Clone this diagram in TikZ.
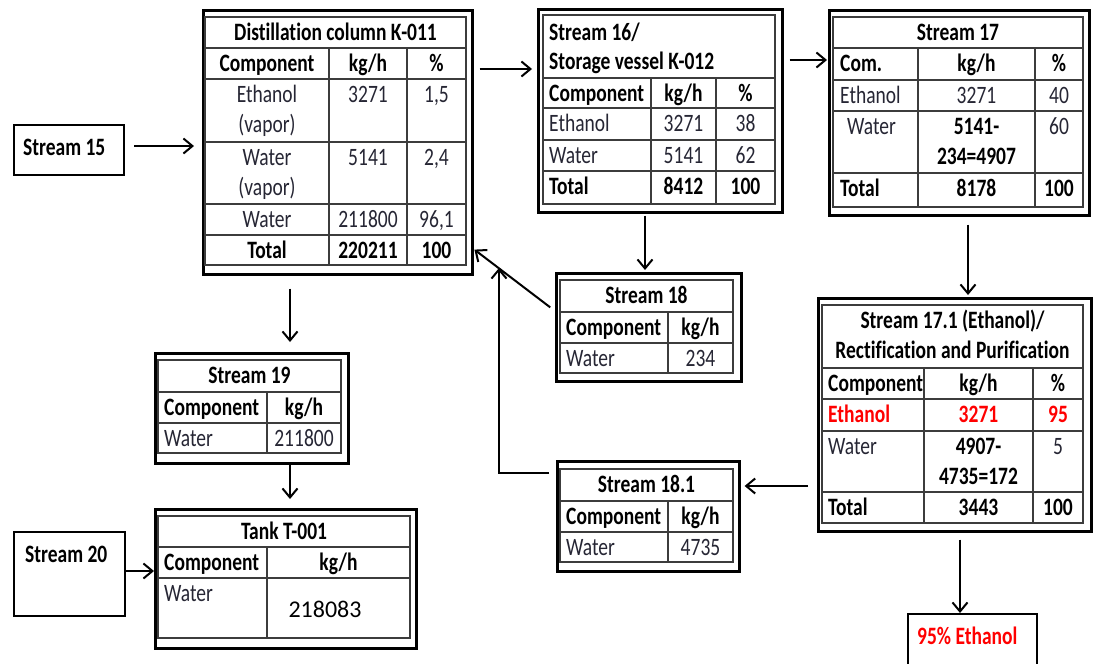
\documentclass[tikz,border=0pt]{standalone}
\usepackage{fontspec}
\setmainfont{Carlito}[FakeStretch=0.78,Ligatures={NoCommon}]
\newfontfamily\numfont{Carlito}
\usetikzlibrary{arrows.meta}
\definecolor{txt}{RGB}{38,38,52}
\definecolor{gridc}{RGB}{60,60,60}
\definecolor{myred}{RGB}{255,0,0}
\begin{document}
\begin{tikzpicture}[x=1pt,y=-1pt,
  font=\fontsize{25}{30}\selectfont,
  obox/.style={draw=black,line width=2.6pt,inner sep=0pt,anchor=north west},
  sbox/.style={draw=black,line width=2pt,inner sep=0pt,anchor=north west},
  gridline/.style={draw=gridc,line width=1.1pt},
  rt/.style={anchor=base,inner sep=0pt,text=txt},
  rl/.style={rt,anchor=base west},
  bt/.style={anchor=base,inner sep=0pt,text=black,font=\fontsize{25}{30}\selectfont\bfseries},
  bl/.style={bt,anchor=base west},
  rb/.style={bt,text=myred},
  rbl/.style={rb,anchor=base west},
  arr/.style={line width=2pt,-{Straight Barb[length=9pt,width=15pt]}}
]
\fill[white] (0,0) rectangle (1093,664);
\clip (0,0) rectangle (1093,664);

% ---------- Distillation column ----------
\node[obox,minimum width=269pt,minimum height=264pt] (dist) at (202,9) {};
\draw[gridline] (205,17) rectangle (466,265);
\foreach \r in {48,79,142,204,235} \draw[gridline] (205,\r) -- (466,\r);
\foreach \c in {329,407} \draw[gridline] (\c,48) -- (\c,265);
\node[bt] (d-title) at (335.5,40) {Distillation column K-011};
\node[bt] (d-h1) at (267,71) {Component};
\node[bt] (d-h2) at (368,71) {kg/h};
\node[bt] (d-h3) at (436.5,71) {\%};
\node[rt] (d-e1) at (267,102) {Ethanol};
\node[rt] (d-e1b) at (267,132) {(vapor)};
\node[rt] (d-e2) at (368,102) {3271};
\node[rt] (d-e3) at (436.5,102) {1,5};
\node[rt] (d-w1) at (267,165) {Water};
\node[rt] (d-w1b) at (267,195) {(vapor)};
\node[rt] (d-w2) at (368,165) {5141};
\node[rt] (d-w3) at (436.5,165) {2,4};
\node[rt] (d-x1) at (267,227) {Water};
\node[rt] (d-x2) at (368,227) {211800};
\node[rt] (d-x3) at (436.5,227) {96,1};
\node[bt] (d-t1) at (267,258) {Total};
\node[bt] (d-t2) at (368,258) {220211};
\node[bt] (d-t3) at (436.5,258) {100};

% ---------- Stream 16 ----------
\node[obox,minimum width=244pt,minimum height=203pt] (s16) at (537,8) {};
\draw[gridline] (543,15) rectangle (775,204);
\foreach \r in {78,108,140,171} \draw[gridline] (543,\r) -- (775,\r);
\foreach \c in {651,716} \draw[gridline] (\c,78) -- (\c,204);
\node[bl] (s16-ta) at (549,40) {Stream 16/};
\node[bl] (s16-tb) at (549,69) {Storage vessel K-012};
\node[bl] (s16-h1) at (549,101) {Component};
\node[bt] (s16-h2) at (683.5,101) {kg/h};
\node[bt] (s16-h3) at (745.5,101) {\%};
\node[rl] (s16-e1) at (549,131) {Ethanol};
\node[rt] (s16-e2) at (683.5,131) {3271};
\node[rt] (s16-e3) at (745.5,131) {38};
\node[rl] (s16-w1) at (549,163) {Water};
\node[rt] (s16-w2) at (683.5,163) {5141};
\node[rt] (s16-w3) at (745.5,163) {62};
\node[bl] (s16-t1) at (549,194) {Total};
\node[bt] (s16-t2) at (683.5,194) {8412};
\node[bt] (s16-t3) at (745.5,194) {100};

% ---------- Stream 17 ----------
\node[obox,minimum width=260pt,minimum height=205pt] (s17) at (828,9) {};
\draw[gridline] (833,17) rectangle (1083,207);
\foreach \r in {48,80,111,173} \draw[gridline] (833,\r) -- (1083,\r);
\foreach \c in {918,1035} \draw[gridline] (\c,48) -- (\c,207);
\node[bt] (s17-t) at (958,40) {Stream 17};
\node[bl] (s17-h1) at (840,71) {Com.};
\node[bt] (s17-h2) at (976.5,71) {kg/h};
\node[bt] (s17-h3) at (1059,71) {\%};
\node[rl] (s17-e1) at (840,103) {Ethanol};
\node[rt] (s17-e2) at (976.5,103) {3271};
\node[rt] (s17-e3) at (1059,103) {40};
\node[rl] (s17-w1) at (847,134) {Water};
\node[bt] (s17-w2) at (976.5,134) {5141-};
\node[bt] (s17-w2b) at (976.5,164) {234=4907};
\node[rt] (s17-w3) at (1059,134) {60};
\node[bl] (s17-t1) at (840,196) {Total};
\node[bt] (s17-t2) at (976.5,196) {8178};
\node[bt] (s17-t3) at (1059,196) {100};

% ---------- Stream 17.1 ----------
\node[obox,minimum width=273pt,minimum height=233pt] (s171) at (817,297) {};
\draw[gridline] (822,305) rectangle (1083,523);
\foreach \r in {368,399,431,492} \draw[gridline] (822,\r) -- (1083,\r);
\foreach \c in {924,1033} \draw[gridline] (\c,368) -- (\c,523);
\node[bt] (s171-ta) at (952.5,328) {Stream 17.1 (Ethanol)/};
\node[bt] (s171-tb) at (952.5,358) {Rectification and Purification};
\node[bl] (s171-h1) at (828,391) {Component};
\node[bt] (s171-h2) at (978.5,391) {kg/h};
\node[bt] (s171-h3) at (1058,391) {\%};
\node[rbl] (s171-e1) at (828,422) {Ethanol};
\node[rb] (s171-e2) at (978.5,422) {3271};
\node[rb] (s171-e3) at (1058,422) {95};
\node[rl] (s171-w1) at (828,454) {Water};
\node[bt] (s171-w2) at (978.5,454) {4907-};
\node[bt] (s171-w2b) at (978.5,484) {4735=172};
\node[rt] (s171-w3) at (1058,454) {5};
\node[bl] (s171-t1) at (828,515) {Total};
\node[bt] (s171-t2) at (978.5,515) {3443};
\node[bt] (s171-t3) at (1058,515) {100};

% ---------- Stream 18 ----------
\node[obox,minimum width=185pt,minimum height=108pt] (s18) at (555,272) {};
\draw[gridline] (560,280) rectangle (733,373);
\foreach \r in {312,343} \draw[gridline] (560,\r) -- (733,\r);
\draw[gridline] (668,312) -- (668,373);
\node[bt] (s18-t) at (646.5,303) {Stream 18};
\node[bl] (s18-h1) at (566,335) {Component};
\node[bt] (s18-h2) at (700.5,335) {kg/h};
\node[rl] (s18-w1) at (566,366) {Water};
\node[rt] (s18-w2) at (700.5,366) {234};

% ---------- Stream 18.1 ----------
\node[obox,minimum width=182pt,minimum height=110pt] (s181) at (556,460) {};
\draw[gridline] (560,469) rectangle (733,562);
\foreach \r in {501,532} \draw[gridline] (560,\r) -- (733,\r);
\draw[gridline] (668,501) -- (668,562);
\node[bt] (s181-t) at (646.5,492) {Stream 18.1};
\node[bl] (s181-h1) at (566,524) {Component};
\node[bt] (s181-h2) at (700.5,524) {kg/h};
\node[rl] (s181-w1) at (566,555) {Water};
\node[rt] (s181-w2) at (700.5,555) {4735};

% ---------- Stream 19 ----------
\node[obox,minimum width=193pt,minimum height=110pt] (s19) at (154,352) {};
\draw[gridline] (158,360) rectangle (341,453);
\foreach \r in {392,423} \draw[gridline] (158,\r) -- (341,\r);
\draw[gridline] (267,392) -- (267,453);
\node[bt] (s19-t) at (249.5,383) {Stream 19};
\node[bl] (s19-h1) at (164,415) {Component};
\node[bt] (s19-h2) at (304,415) {kg/h};
\node[rl] (s19-w1) at (164,446) {Water};
\node[rt] (s19-w2) at (304,446) {211800};

% ---------- Tank T-001 ----------
\node[obox,minimum width=261pt,minimum height=139pt] (tank) at (154,508) {};
\draw[gridline] (158,516) rectangle (410,638);
\foreach \r in {547,578} \draw[gridline] (158,\r) -- (410,\r);
\draw[gridline] (267,547) -- (267,638);
\node[bt] (tk-t) at (284,539) {Tank T-001};
\node[bl] (tk-h1) at (164,570) {Component};
\node[bt] (tk-h2) at (338.5,570) {kg/h};
\node[rl] (tk-w1) at (164,601) {Water};
\node[anchor=base,inner sep=0pt,text=black,font=\numfont\fontsize{24}{28}\selectfont] (tk-w2) at (325,617) {218083};

% ---------- simple boxes ----------
\node[sbox,minimum width=110pt,minimum height=50pt] (s15) at (13,124) {};
\node[bl] (s15-t) at (23,155) {Stream 15};
\node[sbox,minimum width=111pt,minimum height=84pt] (s20) at (13,531) {};
\node[bl] (s20-t) at (25,562) {Stream 20};
\node[sbox,minimum width=129pt,minimum height=60pt] (eth) at (907,613) {};
\node[rbl] (eth-t) at (917,644) {95\% Ethanol};

% ---------- connectors ----------
\draw[arr,shorten <=9pt,shorten >=8pt] (s15.east |- 0,146) -- (dist.west |- 0,146);
\draw[arr,shorten <=6pt,shorten >=5pt] (dist.east |- 0,69) -- (s16.west |- 0,69);
\draw[arr,shorten <=6pt,shorten >=1pt] (s16.east |- 0,60) -- (s17.west |- 0,60);
\draw[arr,shorten <=2pt,shorten >=2pt] (645,0 |- s16.south) -- (645,0 |- s18.north);
\draw[arr,shorten <=6pt,shorten >=1pt] (s18.west |- 0,311) -- (dist.east |- 0,249);
\draw[arr,shorten <=8pt,shorten >=2pt] (968,0 |- s17.south) -- (968,0 |- s171.north);
\draw[arr,shorten <=9pt,shorten >=4pt] (s171.west |- 0,486) -- (s181.east |- 0,486);
\coordinate (ret) at (499,268);
\draw[arr,shorten <=7pt] (s181.west |- 0,473) -| (ret);
\draw[arr,shorten <=13pt,shorten >=10pt] (290,0 |- dist.south) -- (290,0 |- s19.north);
\draw[arr,shorten >=9pt] (290,0 |- s19.south) -- (290,0 |- tank.north);
\draw[arr] (s20.east |- 0,571) -- (tank.west |- 0,571);
\draw[arr,shorten <=7pt] (960,0 |- s171.south) -- (960,0 |- eth.north);
\end{tikzpicture}
\end{document}
